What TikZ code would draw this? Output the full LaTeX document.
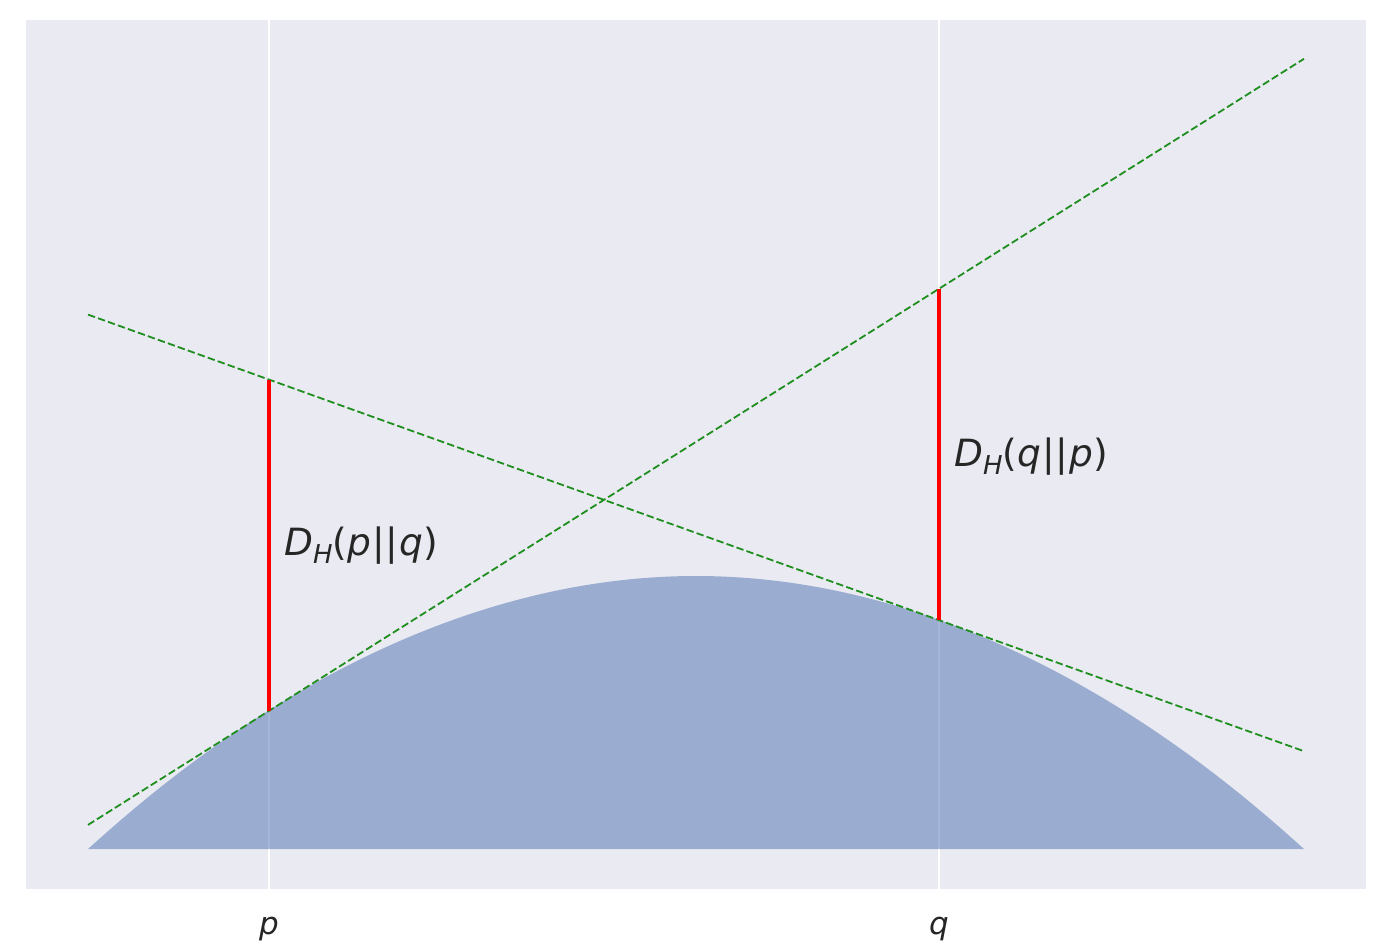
\documentclass[tikz,border=0pt]{standalone}
\usepackage{fontspec}
\setmainfont{DejaVu Sans}
\definecolor{axbg}{HTML}{EAEAF2}
\definecolor{fillblue}{HTML}{4C72B0}
\definecolor{mplgreen}{HTML}{1E8F1E}
\definecolor{mplred}{HTML}{FF0000}
\definecolor{txt}{HTML}{262626}
\tikzset{
  gridline/.style={draw=white, line width=2pt},
  tangent/.style={draw=mplgreen, line width=1.8pt, dash pattern=on 7.4pt off 3.2pt},
  gap/.style={draw=mplred, line width=4.5pt},
  lbl/.style={text=txt, font=\fontsize{37.5}{45}\selectfont, inner sep=0pt, anchor=base west},
  ticklbl/.style={text=txt, font=\fontsize{31}{37}\selectfont, inner sep=0pt, anchor=base},
}
\newcommand{\myDH}{\textit{D}\raisebox{-0.22em}{\fontsize{26}{31}\selectfont\textit{H}}}
\newcommand{\myBars}{\kern1.5pt||\kern1.5pt}
\begin{document}
\begin{tikzpicture}[x=1pt,y=-1pt]
\useasboundingbox (0,0) rectangle (1394,950);
\fill[white] (0,0) rectangle (1394,950);
\fill[axbg] (26,20) rectangle (1366,889);
% grid
\coordinate (gpT) at (269,20); \coordinate (gpB) at (269,889);
\coordinate (gqT) at (939,20); \coordinate (gqB) at (939,889);
\draw[gridline] (gpT) -- (gpB);
\draw[gridline] (gqT) -- (gqB);
% curve
\fill[fillblue, fill opacity=0.5] (88,849) parabola bend (696,576) (1304,849) -- cycle;
% tangent points
\coordinate (P) at (269,710.9);
\coordinate (Q) at (939,620.2);
\coordinate (PupQ) at (269,379.6);
\coordinate (QupP) at (939,288.6);
% tangent lines
\coordinate (tpL) at (88,824.9); \coordinate (tpR) at (1304,58.8);
\coordinate (tqL) at (88,314.6); \coordinate (tqR) at (1304,751.2);
\draw[tangent] (tpL) -- (tpR);
\draw[tangent] (tqL) -- (tqR);
% gaps
\draw[gap] (P) -- (PupQ);
\draw[gap] (Q) -- (QupP);
% labels
\node[lbl] (l1) at (284,555) {\myDH(\textit{p}\myBars\textit{q})};
\node[lbl] (l2) at (954,466) {\myDH(\textit{q}\myBars\textit{p})};
\node[ticklbl] (tp) at (269,934) {\textit{p}};
\node[ticklbl] (tq) at (939,934) {\textit{q}};
\end{tikzpicture}
\end{document}
